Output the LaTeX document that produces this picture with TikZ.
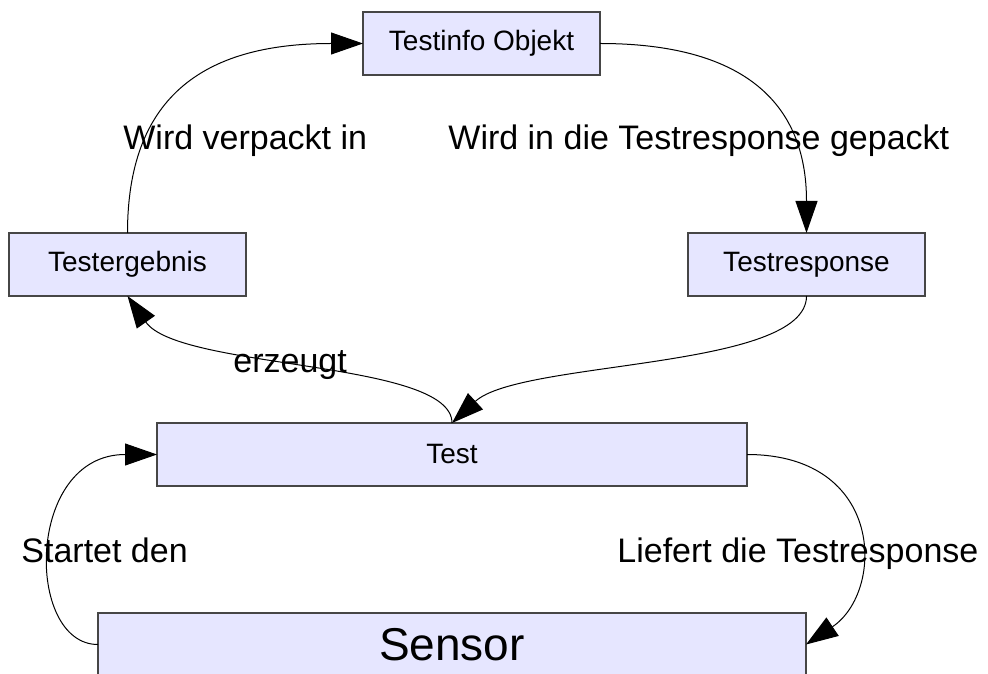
\documentclass[tikz,border=0pt]{standalone}
\usepackage{fontspec}
\setmainfont{Liberation Sans}
\usepackage{xcolor}
\usetikzlibrary{arrows.meta,positioning}
\definecolor{boxfill}{RGB}{230,230,255}
\definecolor{boxline}{RGB}{70,70,70}
\tikzset{
    objbox/.style={
        rectangle,
        draw=boxline,
        fill=boxfill,
        line width=0.6pt,
        minimum width=118.5pt,
        minimum height=31.5pt,
        inner sep=0pt,
        outer sep=0pt,
        text centered,
        font=\fontsize{14}{16}\selectfont
    },
    flow/.style={
        -{Triangle[length=16pt,width=11pt]},
        line width=0.5pt
    },
    flowlabel/.style={
        anchor=base west,
        inner sep=0pt,
        font=\fontsize{17}{20}\selectfont
    }
}

\begin{document}
\begin{tikzpicture}[x=0.5pt, y=-0.5pt]
\useasboundingbox (0,0) rectangle (988,673);

% Testinfo Objekt
\node[objbox] (testinfo) at (481.5,43.5) {Testinfo Objekt};

% Testergebnis and Testresponse
\node[objbox, below left=79pt and 58.5pt of testinfo] (testergebnis) {Testergebnis};
\node[objbox, below right=79pt and 44pt of testinfo] (testresponse) {Testresponse};

% Test
\node[objbox, minimum width=295pt] (test) at (452,454.5) {Test};

% Sensor
\node[objbox, minimum width=354pt, below=63.5pt of test, font=\fontsize{23}{27}\selectfont] (sensor) {Sensor};

% connectors
\draw[flow] (testergebnis.north) .. controls +(0,-133) and +(-163,0) .. (testinfo.west);
\draw[flow] (testinfo.east) .. controls +(140,0) and +(0,-133) .. (testresponse.north);
\draw[flow] (testresponse.south) .. controls +(0,74) and +(68,-63) .. (test.north);
\draw[flow] (test.north) .. controls +(0,-63) and +(52,74) .. (testergebnis.south);
\draw[flow] (sensor.west) .. controls +(-73,0) and +(-132,0) .. (test.west);
\draw[flow] (test.east) .. controls +(138,0) and +(79,-53) .. (sensor.east);

% labels
\node[flowlabel] (lblverpackt) at (123,150) {Wird verpackt in};
\node[flowlabel] (lblgepackt) at (448,150) {Wird in die Testresponse gepackt};
\node[flowlabel] (lblerzeugt) at (233,372) {erzeugt};
\node[flowlabel] (lblstartet) at (21,562) {Startet den};
\node[flowlabel] (lblliefert) at (617,562) {Liefert die Testresponse};
\end{tikzpicture}
\end{document}
